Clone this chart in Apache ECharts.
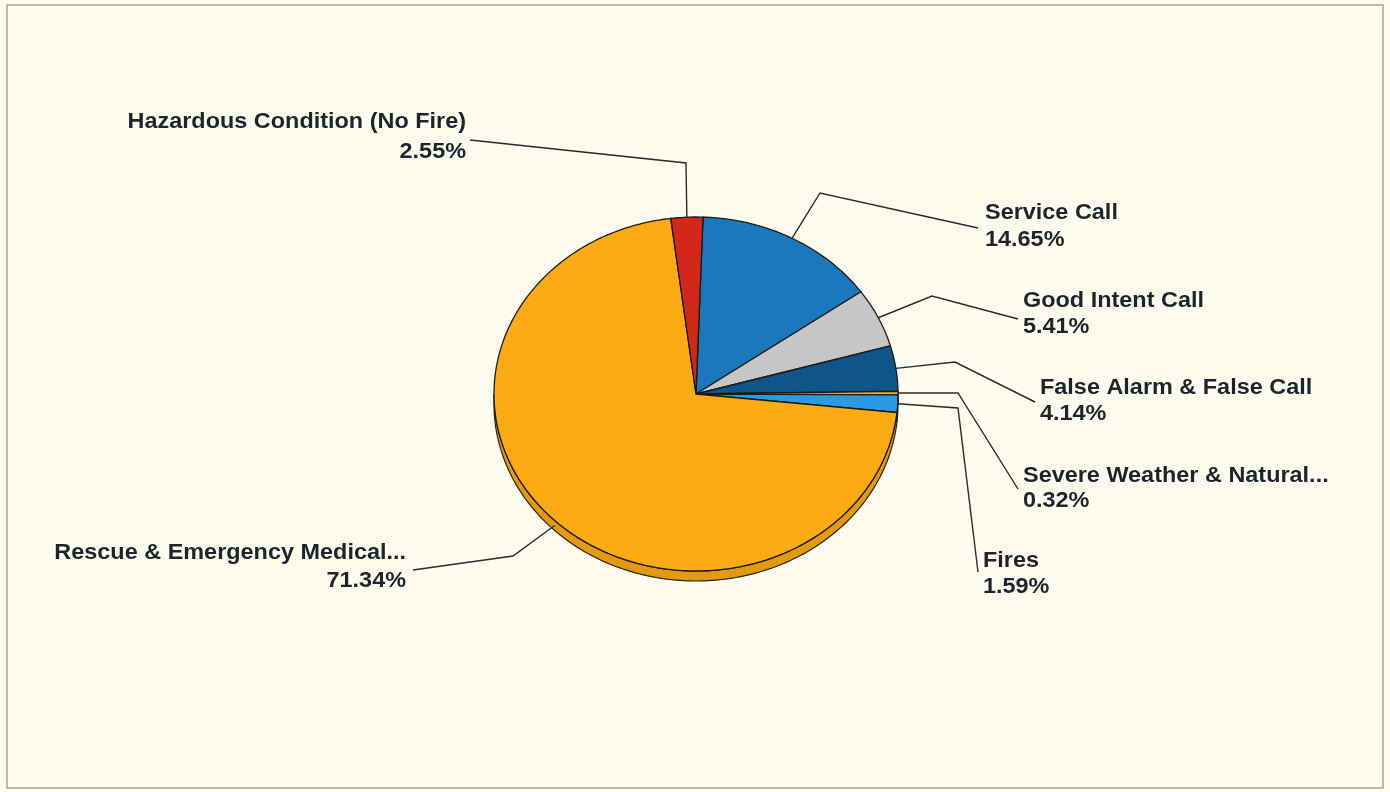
<!DOCTYPE html>
<html>
<head>
<meta charset="utf-8">
<title>Incident Types</title>
<script src="https://cdn.jsdelivr.net/npm/echarts@6/dist/echarts.min.js"></script>
<style>
  html, body { margin: 0; padding: 0; background: #fdfcef; }
  #chart { width: 1390px; height: 792px; }
</style>
</head>
<body>
<div id="chart"></div>
<script>
// Incident categories, in clockwise order from 12 o'clock
const categories = [
  'Service Call',
  'Good Intent Call',
  'False Alarm & False Call',
  'Severe Weather & Natural...',
  'Fires',
  'Rescue & Emergency Medical...',
  'Hazardous Condition (No Fire)'
];
// Share of all incidents, percent
const shares = [14.65, 5.41, 4.14, 0.32, 1.59, 71.34, 2.55];
const valueLabels = ['14.65%', '5.41%', '4.14%', '0.32%', '1.59%', '71.34%', '2.55%'];

// Slice colours (top face) and side colours
const topColors = ['#1a78bd', '#c6c6c8', '#0e5688', '#f2b21c', '#2a9be2', '#fdab12', '#d2281a'];
const sideColors = ['#125d94', '#9c9ca0', '#0a3f66', '#c98c10', '#1e7ab5', '#e39a0e', '#a81e14'];

// Leader line elbows and label anchors, in pixels
const labelLayout = [
  { elbow: [820, 193], end: [978, 228], x: 985, align: 'left', y1: 213, y2: 240 },
  { elbow: [932, 296], end: [1018, 319], x: 1023, align: 'left', y1: 301, y2: 327 },
  { elbow: [955, 362], end: [1035, 402], x: 1040, align: 'left', y1: 388, y2: 414 },
  { elbow: [958, 393], end: [1018, 489], x: 1023, align: 'left', y1: 476, y2: 501 },
  { elbow: [958, 408], end: [978, 572], x: 983, align: 'left', y1: 561, y2: 587 },
  { elbow: [513, 556], end: [413, 570], x: 406, align: 'right', y1: 553, y2: 581 },
  { elbow: [686, 163], end: [470, 140], x: 466, align: 'right', y1: 122, y2: 152 }
];

const START_OFFSET = 2;   // degrees clockwise from 12 o'clock
const DEPTH = 10;         // thickness of the pie's side, px
const FONT = 'bold 21.5px "Liberation Sans", Arial, sans-serif';
const TEXT_STRETCH = 1.09;
const TEXT_COLOR = '#1c252c';

const total = shares.reduce((a, b) => a + b, 0);
const startAngles = [];
let acc = 0;
shares.forEach(v => { startAngles.push(START_OFFSET + acc / total * 360); acc += v; });

function rad(d) { return d * Math.PI / 180; }
function edge(api, deg) {
  return api.coord([Math.sin(rad(deg)), Math.cos(rad(deg))]);
}
function arcPoints(api, a0, a1) {
  const pts = [];
  const n = Math.max(2, Math.ceil((a1 - a0) / 1));
  for (let i = 0; i <= n; i++) pts.push(edge(api, a0 + (a1 - a0) * i / n));
  return pts;
}
function label(text, x, y, align) {
  return {
    type: 'text',
    x: x, y: y,
    scaleX: TEXT_STRETCH,
    style: {
      text: text, x: 0, y: 0,
      textAlign: align, textVerticalAlign: 'middle',
      font: FONT, fill: TEXT_COLOR
    }
  };
}

const seriesData = shares.map((v, i) => [i, v]);

const chart = echarts.init(document.getElementById('chart'), null, { renderer: 'canvas' });

chart.setOption({
  backgroundColor: '#fdfcef',
  animation: false,
  grid: { left: 494, top: 217, width: 404, height: 354 },
  xAxis: { type: 'value', min: -1, max: 1, show: false },
  yAxis: { type: 'value', min: -1, max: 1, show: false },
  graphic: [{
    type: 'rect',
    shape: { x: 7, y: 5, width: 1376, height: 783 },
    style: { fill: 'none', stroke: '#aaa394', lineWidth: 1.5 },
    silent: true
  }],
  series: [
    {
      // visible side of the pie (lower half)
      type: 'custom',
      coordinateSystem: 'cartesian2d',
      z: 1,
      data: seriesData,
      renderItem: function (params, api) {
        const i = api.value(0);
        const a0 = startAngles[i];
        const a1 = a0 + api.value(1) / total * 360;
        const s = Math.max(a0, 90), e = Math.min(a1, 270);
        if (e <= s) return { type: 'group', children: [] };
        const top = arcPoints(api, s, e);
        const bottom = top.map(p => [p[0], p[1] + DEPTH]).reverse();
        return {
          type: 'polygon',
          shape: { points: top.concat(bottom) },
          style: { fill: sideColors[i], stroke: '#2a2418', lineWidth: 1.2 }
        };
      }
    },
    {
      // top faces of the slices, leader lines and labels
      type: 'custom',
      coordinateSystem: 'cartesian2d',
      z: 2,
      data: seriesData,
      renderItem: function (params, api) {
        const i = api.value(0);
        const a0 = startAngles[i];
        const a1 = a0 + api.value(1) / total * 360;
        const c = api.coord([0, 0]);
        const pts = [c].concat(arcPoints(api, a0, a1));
        const mid = (a0 + a1) / 2;
        let p0 = edge(api, mid);
        if (Math.cos(rad(mid)) < 0 && Math.sin(rad(mid)) < 0) p0 = [p0[0], p0[1] + DEPTH / 2];
        const L = labelLayout[i];
        return {
          type: 'group',
          children: [
            {
              type: 'polygon',
              shape: { points: pts },
              style: { fill: topColors[i], stroke: '#1e1a14', lineWidth: 1.3 }
            },
            {
              type: 'polyline',
              shape: { points: [p0, L.elbow, L.end] },
              style: { fill: 'none', stroke: '#2b2b2b', lineWidth: 1.4 }
            },
            label(categories[i], L.x, L.y1, L.align),
            label(valueLabels[i], L.x, L.y2, L.align)
          ]
        };
      }
    }
  ]
});
</script>
</body>
</html>
